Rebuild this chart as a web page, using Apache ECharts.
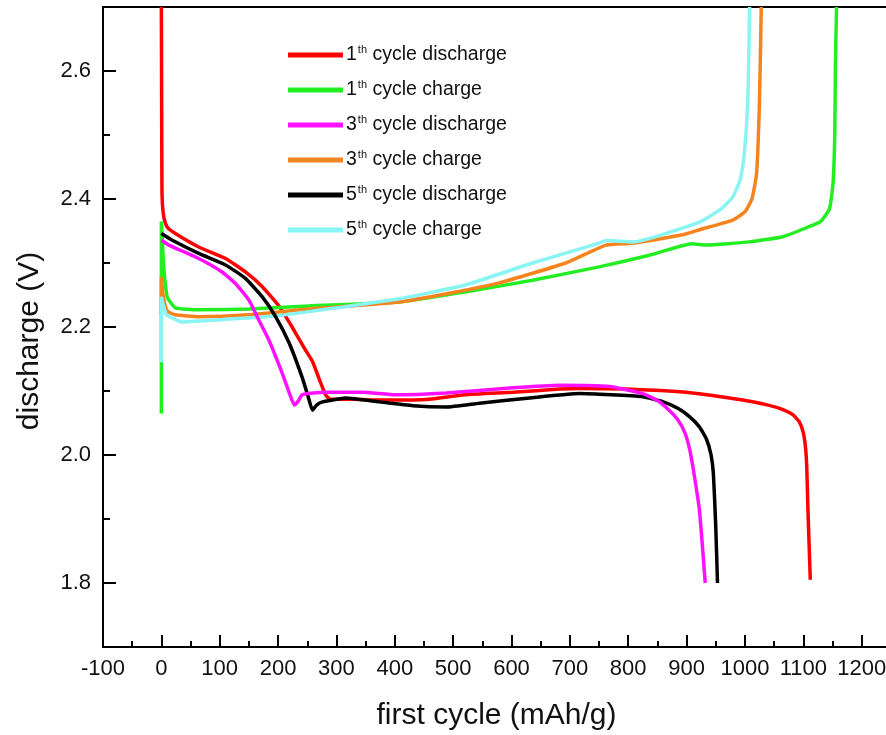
<!DOCTYPE html>
<html>
<head>
<meta charset="utf-8">
<script src="https://cdn.jsdelivr.net/npm/echarts@6/dist/echarts.min.js"></script>
<style>html,body{margin:0;padding:0;background:#fff}#c{width:886px;height:735px}</style>
</head>
<body>
<div id="c"></div>
<script>
const seriesNames = ['1th cycle discharge','1th cycle charge','3th cycle discharge','3th cycle charge','5th cycle discharge','5th cycle charge'];
const xTickInterval = 100;
const yMajorTicks = [1.8, 2.0, 2.2, 2.4, 2.6];
const yMinorInterval = 0.1;

const cycle1Discharge = [[0,2.70],[0.5,2.55],[1,2.42],[2,2.39],[5,2.368],[10,2.356],[24,2.346],[64,2.325],[110,2.307],[144,2.286],[173,2.263],[202,2.232],[224,2.200],[247,2.164],[259,2.146],[272,2.115],[282,2.093],[290,2.087],[330,2.087],[373,2.086],[430,2.086],[459,2.087],[520,2.094],[602,2.098],[682,2.103],[716,2.104],[797,2.103],[910,2.097],[996,2.086],[1040,2.078],[1065,2.071],[1082,2.063],[1093,2.052],[1100,2.035],[1104,2.010],[1106,1.980],[1108,1.914],[1112,1.805]];
const cycle1Charge = [[0,2.065],[0,2.365],[2,2.33],[4,2.294],[10,2.247],[24,2.23],[64,2.227],[150,2.228],[253,2.233],[407,2.239],[522,2.255],[636,2.273],[750,2.294],[836,2.312],[910,2.330],[934,2.328],[1008,2.333],[1065,2.341],[1105,2.355],[1130,2.365],[1145,2.385],[1151,2.425],[1154,2.503],[1155,2.606],[1157,2.70]];
const cycle3Discharge = [[0,2.336],[13,2.328],[64,2.307],[104,2.286],[127,2.268],[150,2.242],[167,2.211],[184,2.18],[207,2.128],[220,2.095],[228,2.078],[235,2.085],[241,2.094],[260,2.097],[287,2.098],[344,2.098],[402,2.094],[488,2.097],[602,2.105],[682,2.109],[768,2.107],[825,2.096],[850,2.085],[870,2.070],[885,2.055],[897,2.035],[905,2.010],[912,1.975],[922,1.914],[932,1.80]];
const cycle3Charge = [[0,2.22],[0,2.278],[3,2.25],[10,2.225],[24,2.219],[64,2.216],[150,2.219],[253,2.228],[407,2.239],[500,2.254],[579,2.269],[693,2.30],[762,2.328],[808,2.331],[893,2.344],[922,2.352],[979,2.367],[1000,2.380],[1012,2.400],[1020,2.44],[1025,2.555],[1028,2.70]];
const cycle5Discharge = [[0,2.346],[18,2.336],[64,2.315],[110,2.297],[144,2.276],[173,2.247],[196,2.216],[219,2.175],[241,2.122],[252,2.09],[259,2.070],[266,2.078],[276,2.083],[316,2.089],[373,2.083],[431,2.077],[488,2.075],[545,2.081],[631,2.089],[716,2.096],[825,2.091],[860,2.083],[885,2.073],[905,2.060],[922,2.044],[934,2.025],[942,2.000],[946,1.970],[950,1.888],[953,1.80]];
const cycle5Charge = [[0,2.145],[0,2.247],[3,2.235],[9,2.219],[35,2.208],[93,2.211],[179,2.216],[253,2.224],[407,2.244],[522,2.266],[636,2.30],[750,2.331],[762,2.335],[808,2.333],[922,2.364],[960,2.385],[979,2.403],[992,2.43],[999,2.47],[1005,2.555],[1008,2.70]];

const colors = {
  '1th cycle discharge':'#ff0000',
  '1th cycle charge':'#22ee22',
  '3th cycle discharge':'#ff11ff',
  '3th cycle charge':'#f5841f',
  '5th cycle discharge':'#000000',
  '5th cycle charge':'#88f4f4'
};
const dataByName = {
  '1th cycle discharge':cycle1Discharge,
  '1th cycle charge':cycle1Charge,
  '3th cycle discharge':cycle3Discharge,
  '3th cycle charge':cycle3Charge,
  '5th cycle discharge':cycle5Discharge,
  '5th cycle charge':cycle5Charge
};
const drawOrder = ['1th cycle discharge','1th cycle charge','3th cycle charge','5th cycle charge','5th cycle discharge','3th cycle discharge'];

const FONT = '"Liberation Sans", Arial, sans-serif';
const chart = echarts.init(document.getElementById('c'));
chart.setOption({
  animation:false,
  backgroundColor:'#fff',
  grid:{left:103, top:7, width:817, height:640, outerBoundsMode:'none', containLabel:false,
        show:true, borderColor:'#000', borderWidth:2, backgroundColor:'transparent'},
  legend:{
    data:seriesNames, orient:'vertical', left:283, top:39, itemGap:14,
    itemWidth:55, itemHeight:5, icon:'rect',
    formatter:function(n){ const m=n.match(/^(\d)th (.*)$/); return '{n|'+m[1]+'}{s|th}{t| '+m[2]+'}'; },
    textStyle:{fontFamily:FONT, color:'#111', padding:[0,0,0,-2],
      rich:{ n:{fontSize:19.5, fontFamily:FONT, color:'#111', lineHeight:22},
             s:{fontSize:11, fontFamily:FONT, color:'#111', verticalAlign:'top', padding:[0,0,11,1]},
             t:{fontSize:19.5, fontFamily:FONT, color:'#111', lineHeight:22} }}
  },
  xAxis:{
    type:'value', min:-100, max:1300, interval:xTickInterval,
    name:'first cycle (mAh/g)', nameLocation:'middle', nameGap:54,
    nameTextStyle:{fontFamily:FONT, fontSize:30, color:'#111', padding:[0,30,0,0]},
    axisLine:{show:true, onZero:false, lineStyle:{color:'#000', width:2}},
    axisTick:{show:true, inside:true, length:12, lineStyle:{color:'#000', width:2}},
    minorTick:{show:true, splitNumber:2, length:6, lineStyle:{color:'#000', width:2}},
    axisLabel:{fontFamily:FONT, fontSize:22, color:'#111', margin:11, formatter:function(v){return String(v);}},
    splitLine:{show:false}
  },
  yAxis:[{
    type:'value', min:1.7, max:2.7,
    name:'discharge (V)', nameLocation:'middle', nameGap:58,
    nameTextStyle:{fontFamily:FONT, fontSize:30, color:'#111', padding:[0,0,0,-28]},
    axisLine:{show:true, onZero:false, lineStyle:{color:'#000', width:2}},
    axisTick:{show:true, inside:true, length:13, customValues:yMajorTicks, lineStyle:{color:'#000', width:2}},
    axisLabel:{fontFamily:FONT, fontSize:22, color:'#111', margin:12, customValues:yMajorTicks,
      formatter:function(v){ return v.toFixed(1); }},
    splitLine:{show:false}
  },{
    type:'value', min:1.7, max:2.7, interval:yMinorInterval, position:'left', offset:0,
    axisLine:{show:false, onZero:false},
    axisTick:{show:true, inside:true, length:7, lineStyle:{color:'#000', width:2}},
    axisLabel:{show:false},
    splitLine:{show:false}
  }],
  series: drawOrder.map(function(n){ return {
    name:n, type:'line', data:dataByName[n], symbol:'none', smooth:0.15, yAxisIndex:0,
    color:colors[n], lineStyle:{width:3.5, color:colors[n]}, clip:true
  };})
});
</script>
</body>
</html>
